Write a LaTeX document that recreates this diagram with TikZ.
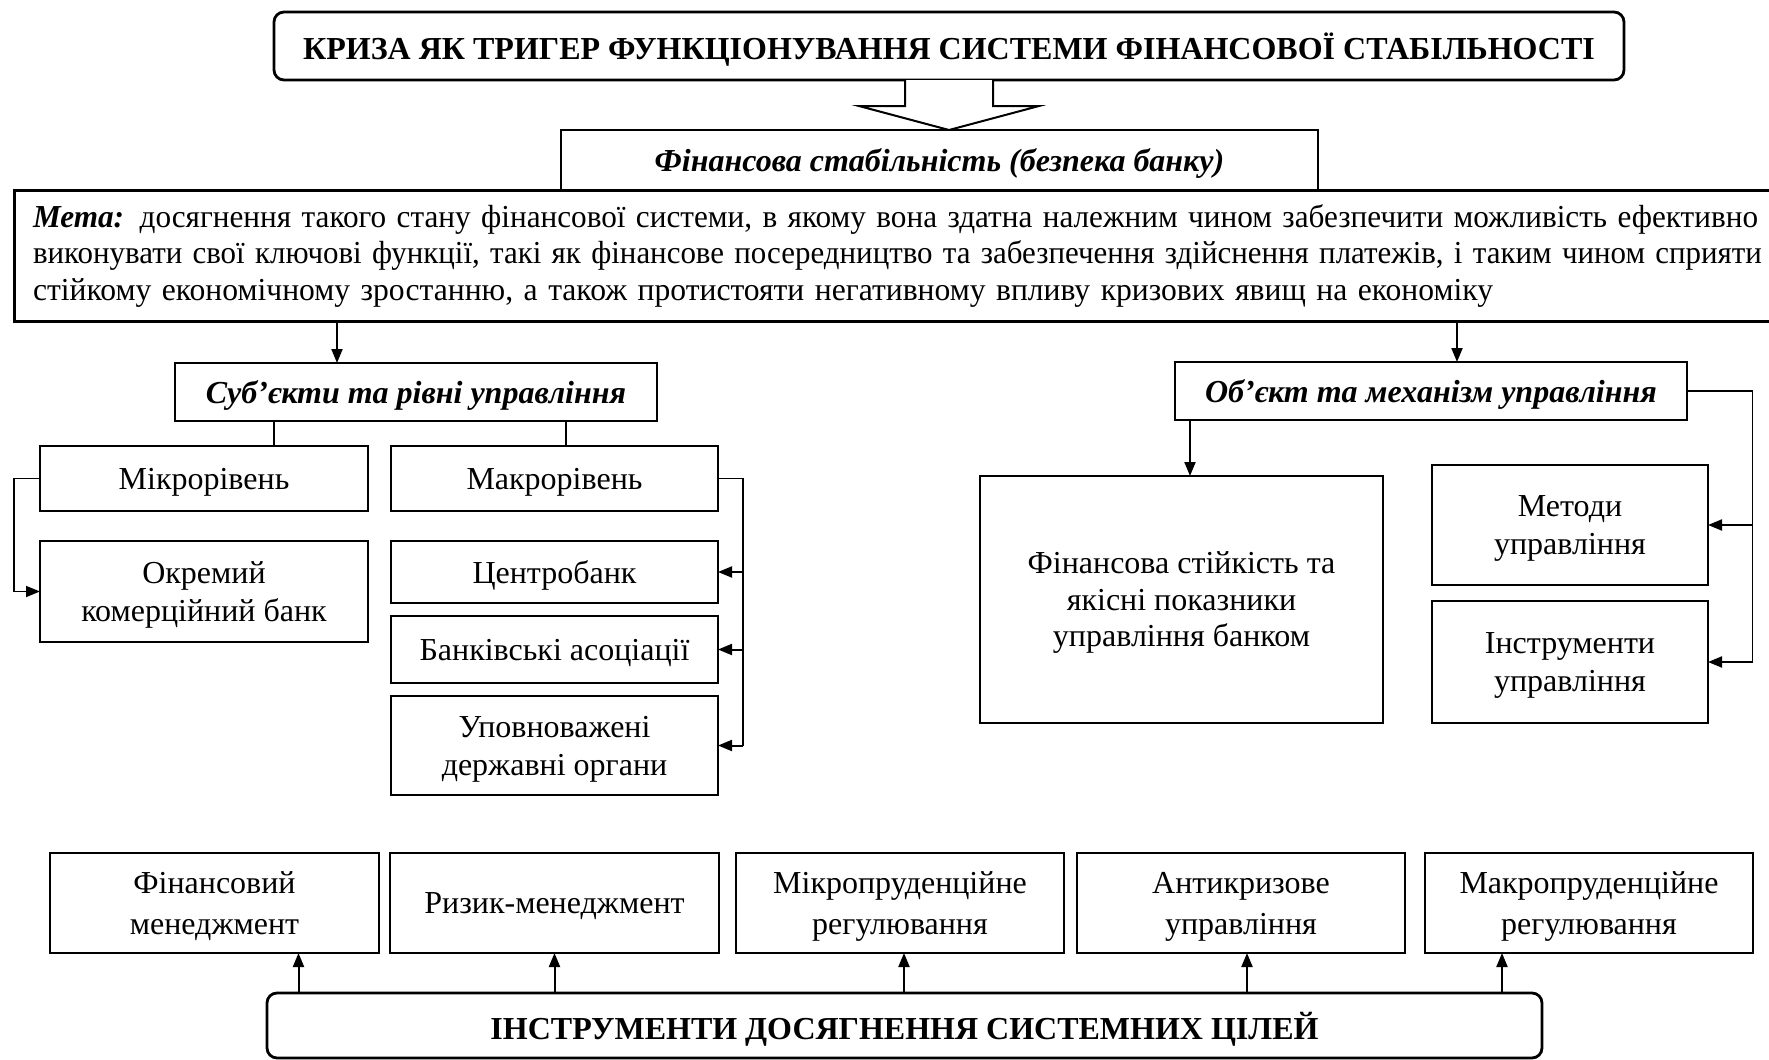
\documentclass[tikz,border=0pt]{standalone}
\usepackage{fontspec}
\usepackage{graphicx}
\setmainfont{Liberation Serif}
\usetikzlibrary{arrows.meta,calc}
\newcommand\mymetafont{\fontsize{16}{18.25}\selectfont}
\begin{document}
\begin{tikzpicture}[x=0.5pt,y=-0.5pt,
  box/.style={draw,line width=1.2pt,inner sep=0pt,outer sep=0pt,align=center,text depth=0pt,font=\fontsize{16}{19}\selectfont},
  hbox/.style={box,font=\bfseries\itshape\fontsize{16}{19}\selectfont},
  bbox/.style={box,font=\fontsize{16}{20.5}\selectfont,minimum height=50pt},
  thinln/.style={line width=0.7pt},
  arr/.style={line width=1pt,-{Triangle[length=7pt,width=5.5pt]}},
]
\path[use as bounding box] (0,0) rectangle (1769,1060);
\clip (0,0) rectangle (1769,1060);

% top
\node[box,rounded corners=5pt,line width=1.4pt,minimum width=675pt,minimum height=34pt,
  font=\bfseries\fontsize{16}{19}\selectfont] (top) at (949,46)
  {КРИЗА ЯК ТРИГЕР ФУНКЦІОНУВАННЯ СИСТЕМИ ФІНАНСОВОЇ СТАБІЛЬНОСТІ};

\node[hbox,line width=0.7pt,minimum width=378.5pt,minimum height=30pt] (fin) at (939.5,160)
  {Фінансова стабільність (безпека банку)};

\node[draw,line width=1.5pt,anchor=west,inner xsep=9.5pt,inner ysep=0pt,outer sep=0pt,
  minimum height=65.5pt,text width=870pt,align=left,font=\mymetafont] (meta) at (14,255.5)
  {\resizebox{862.5pt}{\height}{{\bfseries\itshape Мета:} досягнення такого стану фінансової системи, в якому вона здатна належним чином забезпечити можливість ефективно}\\
   \resizebox{864.5pt}{\height}{виконувати свої ключові функції, такі як фінансове посередництво та забезпечення здійснення платежів, і таким чином сприяти}\\
   \resizebox{730pt}{\height}{стійкому економічному зростанню, а також протистояти негативному впливу кризових явищ на економіку}};

% hollow arrow
\draw[line width=1pt,fill=white] ($(top.south)+(-44,0)$) -- ($(top.south)+(-44,26)$) -- ($(top.south)+(-90,26)$)
  -- (top.south |- fin.north) -- ($(top.south)+(90,26)$) -- ($(top.south)+(44,26)$) -- ($(top.south)+(44,0)$);

% left branch
\node[hbox,minimum width=241pt,minimum height=29pt] (subj) at (416,392) {Суб’єкти та рівні управління};
\node[box,minimum width=164pt,minimum height=32.5pt] (mikro) at (204,478.5) {Мікрорівень};
\node[box,minimum width=163.5pt,minimum height=32.5pt] (makro) at (554.5,478.5) {Макрорівень};
\node[box,minimum width=164pt,minimum height=50.5pt] (okr) at (204,591.5) {Окремий\\комерційний банк};
\node[box,minimum width=163.5pt,minimum height=31pt] (centro) at (554.5,572) {Центробанк};
\node[box,minimum width=163.5pt,minimum height=33.5pt] (bank) at (554.5,649.5) {Банківські асоціації};
\node[box,minimum width=163.5pt,minimum height=49.5pt] (upovn) at (554.5,745.5) {Уповноважені\\державні органи};

% right branch
\node[hbox,minimum width=256pt,minimum height=29pt] (obj) at (1431,391) {Об’єкт та механізм управління};
\node[box,minimum width=201.5pt,minimum height=123.5pt,font=\fontsize{16}{18.25}\selectfont] (finst) at (1181.5,599.5)
  {Фінансова стійкість та\\якісні показники\\управління банком};
\node[box,minimum width=138pt,minimum height=60pt] (metody) at (1570,525) {Методи\\управління};
\node[box,minimum width=138pt,minimum height=61pt] (instr) at (1570,662) {Інструменти\\управління};

% bottom
\node[bbox,minimum width=164.5pt] (fm) at (214.5,903) {Фінансовий\\менеджмент};
\node[bbox,minimum width=164.5pt] (rm) at (554.5,903) {Ризик-менеджмент};
\node[bbox,minimum width=164pt] (mp) at (900,903) {Мікропруденційне\\регулювання};
\node[bbox,minimum width=164pt] (ak) at (1241,903) {Антикризове\\управління};
\node[bbox,minimum width=164pt] (mkp) at (1589,903) {Макропруденційне\\регулювання};
\node[box,rounded corners=5pt,line width=1.4pt,minimum width=637.5pt,minimum height=32.5pt,
  font=\bfseries\fontsize{16}{19}\selectfont] (instrb) at (904.5,1025.5)
  {ІНСТРУМЕНТИ ДОСЯГНЕННЯ СИСТЕМНИХ ЦІЛЕЙ};

% helper x coordinates
\coordinate (xa) at (337,0);
\coordinate (xb) at (274,0);
\coordinate (xc) at (566,0);
\coordinate (xd) at (1457,0);
\coordinate (xe) at (1190,0);
\coordinate (b1) at (298.5,0);
\coordinate (b2) at (554.5,0);
\coordinate (b3) at (904,0);
\coordinate (b4) at (1247,0);
\coordinate (b5) at (1502,0);

% connectors
\draw[arr] (meta.south -| xa) -- (subj.north -| xa);
\draw[arr] (meta.south -| xd) -- (obj.north -| xd);
\draw[thinln] (subj.south -| xb) -- (mikro.north -| xb);
\draw[thinln] (subj.south -| xc) -- (makro.north -| xc);
\draw[arr,line width=0.8pt] (mikro.west) -- ++(-26,0) |- (okr.west);
\draw[thinln] (makro.east) -- ++(25,0) coordinate (k1) -- (k1 |- upovn.east);
\draw[arr] (k1 |- centro.east) -- (centro.east);
\draw[arr] (k1 |- bank.east) -- (bank.east);
\draw[arr] (k1 |- upovn.east) -- (upovn.east);
\draw[arr] (obj.south -| xe) -- (finst.north -| xe);
\draw[thinln] (obj.east) -- ++(65.6,0) coordinate (o1) -- (o1 |- instr.east);
\draw[arr] (o1 |- metody.east) -- (metody.east);
\draw[arr] (o1 |- instr.east) -- (instr.east);

\draw[arr] (instrb.north -| b1) -- (fm.south -| b1);
\draw[arr] (instrb.north -| b2) -- (rm.south -| b2);
\draw[arr] (instrb.north -| b3) -- (mp.south -| b3);
\draw[arr] (instrb.north -| b4) -- (ak.south -| b4);
\draw[arr] (instrb.north -| b5) -- (mkp.south -| b5);
\end{tikzpicture}
\end{document}
